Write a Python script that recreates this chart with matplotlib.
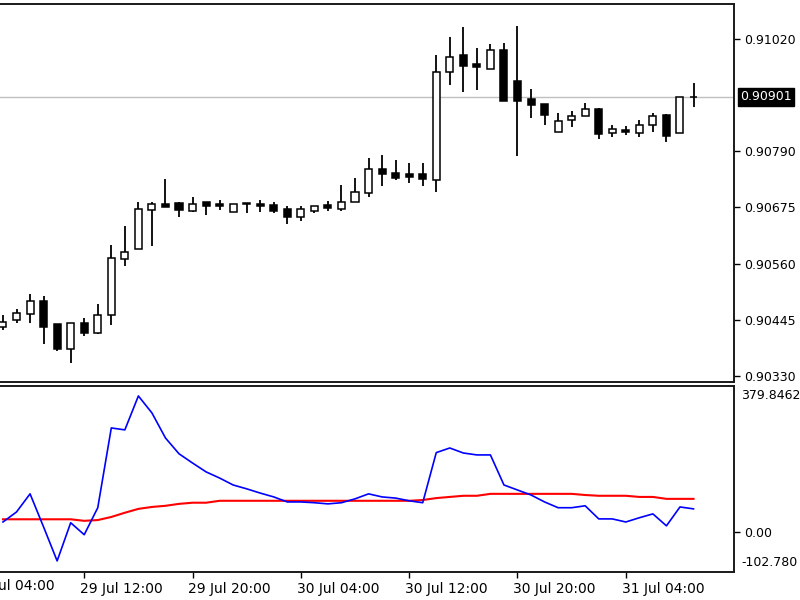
import matplotlib
matplotlib.use('Agg')
import matplotlib.pyplot as plt
import matplotlib.transforms as mtransforms
import numpy as np

# ---- Candle data (hourly bars, 29 Jul 06:00 .. 31 Jul 09:00) ----
opens = [0.90430, 0.90445, 0.90458, 0.90484, 0.90436, 0.90386, 0.90439, 0.90419,
         0.90455, 0.90570, 0.90590, 0.90670, 0.90681, 0.90684, 0.90668, 0.90686,
         0.90681, 0.90665, 0.90685, 0.90682, 0.90679, 0.90672, 0.90655, 0.90668,
         0.90679, 0.90672, 0.90686, 0.90705, 0.90754, 0.90745, 0.90743, 0.90743,
         0.90731, 0.90952, 0.90987, 0.90969, 0.90958, 0.90997, 0.90934, 0.90897,
         0.90886, 0.90830, 0.90854, 0.90861, 0.90877, 0.90827, 0.90834, 0.90827,
         0.90844, 0.90863, 0.90827, 0.90900]
highs = [0.90455, 0.90467, 0.90498, 0.90494, 0.90436, 0.90439, 0.90449, 0.90477,
         0.90598, 0.90636, 0.90686, 0.90686, 0.90733, 0.90687, 0.90696, 0.90686,
         0.90690, 0.90682, 0.90685, 0.90690, 0.90687, 0.90677, 0.90677, 0.90678,
         0.90688, 0.90721, 0.90735, 0.90776, 0.90782, 0.90772, 0.90765, 0.90765,
         0.90987, 0.91023, 0.91043, 0.91001, 0.91009, 0.91011, 0.91046, 0.90917,
         0.90886, 0.90868, 0.90872, 0.90889, 0.90879, 0.90844, 0.90842, 0.90853,
         0.90868, 0.90866, 0.90900, 0.90929]
lows = [0.90424, 0.90438, 0.90438, 0.90396, 0.90381, 0.90357, 0.90413, 0.90417,
        0.90434, 0.90555, 0.90590, 0.90596, 0.90676, 0.90656, 0.90665, 0.90660,
        0.90670, 0.90665, 0.90663, 0.90666, 0.90663, 0.90641, 0.90648, 0.90663,
        0.90668, 0.90668, 0.90686, 0.90697, 0.90718, 0.90731, 0.90724, 0.90718,
        0.90707, 0.90926, 0.90912, 0.90915, 0.90958, 0.90892, 0.90780, 0.90857,
        0.90844, 0.90830, 0.90840, 0.90861, 0.90815, 0.90820, 0.90823, 0.90819,
        0.90829, 0.90808, 0.90827, 0.90881]
closes = [0.90441, 0.90460, 0.90484, 0.90431, 0.90385, 0.90439, 0.90419, 0.90456,
          0.90571, 0.90583, 0.90671, 0.90682, 0.90676, 0.90670, 0.90682, 0.90677,
          0.90677, 0.90682, 0.90682, 0.90677, 0.90668, 0.90655, 0.90671, 0.90678,
          0.90673, 0.90686, 0.90706, 0.90754, 0.90744, 0.90735, 0.90737, 0.90733,
          0.90952, 0.90982, 0.90965, 0.90963, 0.90997, 0.90892, 0.90892, 0.90885,
          0.90864, 0.90851, 0.90862, 0.90877, 0.90825, 0.90835, 0.90830, 0.90844,
          0.90862, 0.90822, 0.90900, 0.90901]

# ---- Indicator data ----
indicator = [27, 53, 100, 14, -74, 25, -6, 64, 271, 266, 354, 310, 245, 204, 180, 157,
             141, 123, 113, 102, 92, 79, 79, 77, 74, 77, 87, 100, 92, 89, 82, 77,
             207, 219, 206, 201, 201, 123, 110, 97, 79, 64, 64, 69, 35, 35, 27, 38,
             48, 17, 66, 61]
signal = [34, 34, 34, 34, 34, 34, 30, 32, 40, 51, 61, 66, 69, 74, 77, 77,
          82, 82, 82, 82, 82, 82, 82, 82, 82, 82, 82, 82, 82, 82, 82, 84,
          89, 92, 95, 95, 100, 100, 100, 100, 100, 100, 100, 97, 95, 95, 95, 92,
          92, 87, 87, 87]

price_ticks = [0.90330, 0.90445, 0.90560, 0.90675, 0.90790, 0.91020]
price_tick_labels = ['0.90330', '0.90445', '0.90560', '0.90675', '0.90790', '0.91020']
last_price = 0.90901
last_price_label = '0.90901'
price_min, price_max = 0.90318, 0.91091

ind_max = 379.8462
ind_min = -102.780
ind_max_label = '379.8462'
ind_min_label = '-102.780'
ind_ticks = [0.0]
ind_tick_labels = ['0.00']

time_tick_pos = [6, 14, 22, 30, 38, 46]
time_tick_labels = ['29 Jul 12:00', '29 Jul 20:00', '30 Jul 04:00',
                    '30 Jul 12:00', '30 Jul 20:00', '31 Jul 04:00']
prev_tick_pos = -2
prev_tick_label = '29 Jul 04:00'

# ---- Figure ----
W, H = 800, 600
fig = plt.figure(figsize=(8, 6), dpi=100)
fig.patch.set_facecolor('white')
right_px = 734
ax1 = fig.add_axes([0, 1 - 382 / H, right_px / W, (382 - 4) / H])
ax2 = fig.add_axes([0, 1 - 572 / H, right_px / W, (572 - 386) / H])

x = np.arange(len(opens))
xlim = (-0.22, 53.99)
frame_col = '#1a1a1a'
fs = 9
fsx = 10

for ax in (ax1, ax2):
    ax.set_xlim(*xlim)
    ax.spines['left'].set_visible(False)
    for s in ('top', 'right', 'bottom'):
        ax.spines[s].set_color(frame_col)
        ax.spines[s].set_linewidth(1.4)
    ax.yaxis.tick_right()
    ax.tick_params(axis='y', direction='out', length=4, width=1, pad=3,
                   labelsize=fs, colors='black')

# Candles
o = np.array(opens)
c = np.array(closes)
up = c >= o
ax1.axhline(last_price, color='#c0c0c0', lw=1.0, zorder=1)
ax1.vlines(x, lows, highs, color='black', lw=1.3, zorder=2)
ax1.bar(x, np.abs(c - o), bottom=np.minimum(o, c), width=0.52,
        color=np.where(up, 'white', 'black'), edgecolor='black',
        linewidth=1.1, zorder=3)
ax1.set_ylim(price_min, price_max)
ax1.set_yticks(price_ticks)
ax1.set_yticklabels(price_tick_labels)
ax1.set_xticks([])

trans = mtransforms.blended_transform_factory(ax1.transAxes, ax1.transData)
ax1.text(1.0 + 6 / right_px, last_price, last_price_label, transform=trans,
         ha='left', va='center', color='white', fontsize=fs, clip_on=False,
         bbox=dict(boxstyle='square,pad=0.2', fc='black', ec='black'))

# Indicator panel
ax2.plot(x, signal, color='#ff0000', lw=1.5, zorder=2)
ax2.plot(x, indicator, color='#0000ff', lw=1.2, zorder=3)
ax2.set_ylim(ind_min, ind_max)
ax2.set_yticks(ind_ticks)
ax2.set_yticklabels(ind_tick_labels)
ax2.text(1.0 + 7 / right_px, 1.0 - 3 / 186, ind_max_label, transform=ax2.transAxes,
         ha='left', va='top', fontsize=fs, color='black', clip_on=False)
ax2.text(1.0 + 7 / right_px, 3 / 186, ind_min_label, transform=ax2.transAxes,
         ha='left', va='bottom', fontsize=fs, color='black', clip_on=False)

ax2.set_xticks(time_tick_pos)
ax2.set_xticklabels(time_tick_labels)
ax2.tick_params(axis='x', direction='out', length=4, width=1, pad=3,
                labelsize=fsx, colors='black')
off = mtransforms.ScaledTranslation(-3 / 72, 0, fig.dpi_scale_trans)
for lbl in ax2.get_xticklabels():
    lbl.set_horizontalalignment('left')
    lbl.set_transform(lbl.get_transform() + off)
ax2.text(prev_tick_pos, -0.035, prev_tick_label,
         transform=mtransforms.blended_transform_factory(ax2.transData, ax2.transAxes) + off,
         ha='left', va='top', fontsize=fsx, color='black', clip_on=False)

fig.savefig('out.png', dpi=100, facecolor='white')
